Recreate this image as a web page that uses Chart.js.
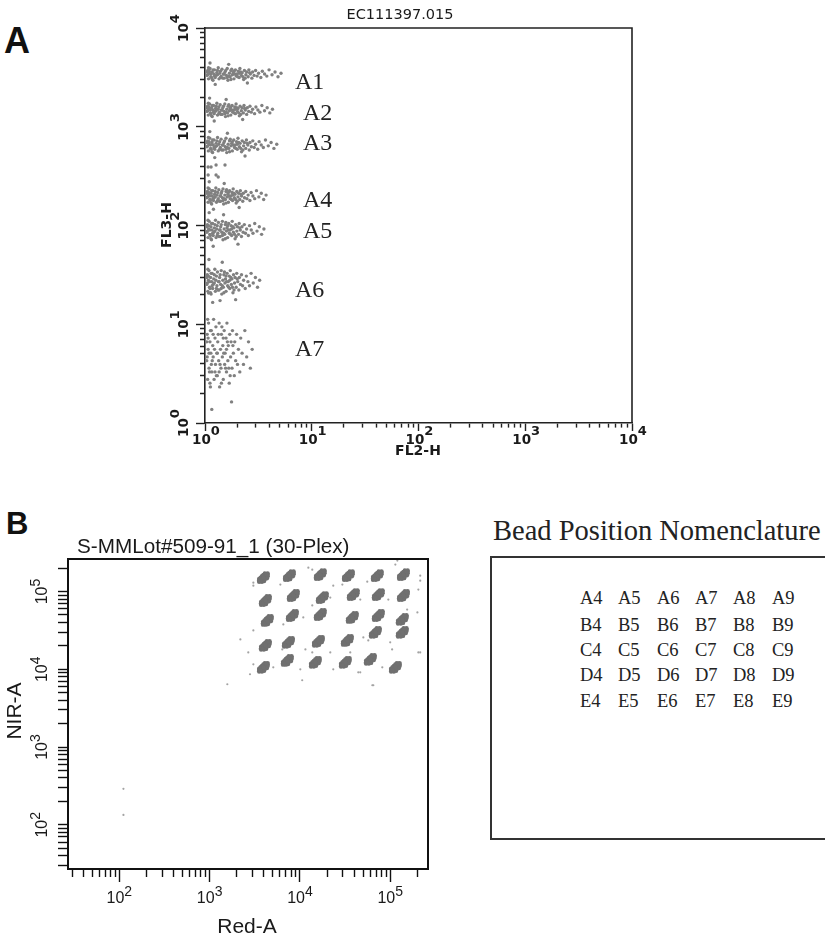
<!DOCTYPE html>
<html>
<head>
<meta charset="utf-8">
<title>Bead populations</title>
<script src="https://cdn.jsdelivr.net/npm/chart.js@4.4.1/dist/chart.umd.min.js"></script>
<style>
  body { margin: 0; background: #fff; }
  #page { position: relative; width: 825px; height: 939px; overflow: hidden; background: #fff; }
  canvas { position: absolute; }
  #plotA { left: 0; top: 0; }
  #plotB { left: 0; top: 480px; }
  .tag { position: absolute; font-family: Arial, "Liberation Sans", sans-serif; font-weight: bold; line-height: 1; color: #111; }
  #beadTitle { position: absolute; left: 493px; top: 517px; font: 28.5px "Liberation Serif", "Times New Roman", serif; line-height: 1; white-space: nowrap; color: #222; }
  #beadBox { position: absolute; left: 490px; top: 556px; width: 360px; height: 284px; border: 2px solid #333; box-sizing: border-box; }
  .bead { position: absolute; font: 18.5px "Liberation Serif", "Times New Roman", serif; line-height: 1; color: #222; white-space: nowrap; }
</style>
</head>
<body>
<div id="page">
  <div class="tag" style="left:4px;top:23px;font-size:36px">A</div>
  <div class="tag" style="left:6px;top:508px;font-size:31px">B</div>
  <canvas id="plotA" width="660" height="470"></canvas>
  <canvas id="plotB" width="470" height="459"></canvas>
  <div id="beadTitle">Bead Position Nomenclature</div>
  <div id="beadBox"></div>
</div>
<script>
// ---- Panel A: seven bead bands, FL2-H vs FL3-H ----
const bandNames = ['A1', 'A2', 'A3', 'A4', 'A5', 'A6', 'A7'];
const bandCenterY = [3420, 1480, 653, 199, 90, 27, 5.1];        // FL3-H centre of each band
const bandHalfHeight = [0.07, 0.075, 0.085, 0.09, 0.11, 0.14, 0.38]; // decades
const bandReach = [0.70, 0.62, 0.66, 0.56, 0.54, 0.50, 0.43];    // FL2-H spread, decades above 10^0
const bandLabelX = [6.97, 8.28, 8.28, 8.28, 8.28, 6.97, 6.97];
const bandLabelY = [2773, 1346, 669, 177, 86, 21.7, 5.5];
// loose events sitting between A3 and A4
const looseFL2 = [1.07, 1.14, 1.27, 1.54, 1.07, 1.27, 1.33];
const looseFL3 = [391, 391, 410, 410, 325, 325, 310];

// shape of one band: [fraction of reach, fraction of half height]
const bandShape = [
  [0.01, -0.2], [0.02, 0.5], [0.03, -0.7], [0.04, 0.1], [0.05, 0.8], [0.06, -0.4], [0.08, 0.3], [0.09, -0.9],
  [0.10, 0.0], [0.11, 0.6], [0.12, -0.5], [0.14, 0.2], [0.15, -0.1], [0.16, 0.9], [0.17, -0.7], [0.19, 0.4],
  [0.20, -0.3], [0.21, 0.7], [0.23, 0.0], [0.24, -0.6], [0.25, 0.3], [0.27, -0.2], [0.28, 0.8], [0.29, -0.9],
  [0.31, 0.1], [0.32, -0.4], [0.33, 0.5], [0.35, -0.1], [0.36, 0.2], [0.37, -0.7], [0.39, 0.6], [0.40, -0.3],
  [0.41, 0.0], [0.43, 0.4], [0.44, -0.5], [0.45, 0.8], [0.47, -0.2], [0.48, 0.2], [0.50, -0.8], [0.51, 0.5],
  [0.53, -0.1], [0.54, 0.3], [0.56, -0.4], [0.57, 0.6], [0.59, 0.0], [0.61, -0.6], [0.62, 0.3], [0.64, -0.2],
  [0.66, 0.5], [0.68, -0.3], [0.70, 0.1], [0.73, -0.5], [0.75, 0.4], [0.78, 0.0], [0.81, -0.3], [0.84, 0.6],
  [0.88, -0.1], [0.92, 0.3], [0.96, -0.4], [1.00, 0.1],
  [0.02, -0.1], [0.04, 0.4], [0.07, -0.5], [0.09, 0.6], [0.13, -0.2], [0.18, 0.1], [0.22, -0.6], [0.26, 0.5],
  [0.30, -0.3], [0.34, 0.7], [0.38, 0.0], [0.42, -0.4], [0.46, 0.3], [0.52, -0.6], [0.58, 0.2],
  [0.01, 0.3], [0.03, 0.9], [0.06, 0.0], [0.08, -0.8], [0.11, -0.3], [0.15, 0.5], [0.19, -0.5], [0.24, 0.0],
  [0.28, -0.5], [0.33, -0.8], [0.37, 0.4], [0.44, 0.1], [0.49, -0.4],
  [0.05, 1.6], [0.12, -1.5], [0.30, 1.4], [0.55, -1.3]
];

// ---- Panel B: 30-plex, Red-A vs NIR-A ----
const beadRows = ['A', 'B', 'C', 'D', 'E'];
const beadCols = [4, 5, 6, 7, 8, 9];
const beadRedA = [
  3940, 7640, 16800, 34400, 71900, 140000,
  4140, 8450, 17700, 39000, 73800, 140000,
  4350, 8240, 16800, 38000, 73800, 136000,
  4140, 7450, 16000, 33500, 68400, 136000,
  3940, 7250, 14800, 31800, 60200, 114000
];
const beadNirA = [
  151000, 160000, 165000, 160000, 160000, 165000,
  76700, 88900, 83700, 91500, 91500, 88900,
  42500, 49200, 50700, 46400, 49200, 43800,
  20300, 22200, 22900, 23500, 29800, 29800,
  10600, 13000, 12300, 12300, 13400, 10600
];
// one bead cluster, offsets in decades [Red-A, NIR-A]
const beadShape = [
  [-0.047, -0.054], [-0.016, -0.054], [-0.047, -0.018], [-0.023, -0.027], [0.008, -0.045],
  [-0.031, 0.000], [-0.008, -0.009], [0.016, -0.018], [-0.016, 0.018], [0.008, 0.009],
  [0.039, -0.009], [0.000, 0.036], [0.023, 0.027], [0.047, 0.018], [0.016, 0.054],
  [0.047, 0.054], [0.000, 0.000], [-0.047, -0.036], [0.047, 0.036], [-0.031, -0.045],
  [0.031, 0.045]
];
const strayRedA = [3050, 6070, 12400, 23400, 29500, 55700, 120000, 215000, 205000, 13700, 21700, 46600,
  95300, 154000, 200000, 6550, 10900, 3050, 50400, 57200, 100000, 215000, 6380, 11500, 13700, 21700,
  36100, 105000, 2800, 5070, 10100, 23400, 46600, 81700, 63400, 3050, 1570, 2190, 2680, 3050, 13700,
  114000, 215000, 205000, 65000, 10600, 44300, 111, 111];
const strayNirA = [119000, 123000, 203000, 119000, 123000, 134000, 250000, 160000, 106000, 66200, 83700, 78900,
  78900, 58700, 53800, 37800, 46400, 31600, 25700, 23500, 22200, 16500, 18000, 18000, 16500, 16500,
  16500, 18000, 8630, 10600, 10000, 10000, 9150, 10600, 6230, 11600, 6420, 24200, 16500, 130000, 191000,
  222000, 138000, 16500, 6230, 7230, 9150, 290, 134];

const decadesA = [1, 10, 100, 1000, 10000];
const decadesB = [100, 1000, 10000, 100000];

Chart.defaults.animation = false;
Chart.defaults.events = [];

// every 1..9 x 10^n between the axis limits, decades flagged major
function logTicks(min, max) {
  const out = [];
  for (let e = -1; e <= 6; e++) {
    for (let m = 1; m <= 9; m++) {
      const v = m * Math.pow(10, e);
      if (v >= min * 0.999 && v <= max * 1.001) out.push({ value: v, major: m === 1 });
    }
  }
  return out;
}

// "10" with a raised exponent, centred on (x, y); rotated to read upwards on the y axis
function powLabel(ctx, x, y, exp, vertical, f) {
  ctx.save();
  ctx.translate(x, y);
  if (vertical) ctx.rotate(-Math.PI / 2);
  ctx.textBaseline = 'middle';
  ctx.textAlign = 'left';
  ctx.font = f.base;
  const wBase = ctx.measureText('10').width;
  ctx.font = f.sup;
  const wSup = ctx.measureText(String(exp)).width;
  const x0 = -(wBase + wSup) / 2;
  ctx.font = f.base;
  ctx.fillText('10', x0, 0);
  ctx.font = f.sup;
  ctx.fillText(String(exp), x0 + wBase, -f.raise);
  ctx.restore();
}

// closes the plot box and writes tick labels, titles and extras
function decor(o) {
  return {
    id: 'decor',
    afterDraw(chart) {
      const { ctx, chartArea: a, scales: { x, y } } = chart;
      ctx.save();
      ctx.strokeStyle = o.frameColor;
      ctx.lineWidth = o.frameWidth;
      ctx.beginPath();
      ctx.moveTo(a.left, a.top);
      ctx.lineTo(a.right, a.top);
      ctx.lineTo(a.right, a.bottom);
      ctx.stroke();
      ctx.fillStyle = o.textColor;
      o.xDecades.forEach(v => powLabel(ctx, x.getPixelForValue(v) + o.xLabelShift, o.xLabelY,
        Math.round(Math.log10(v)), false, o.tickFont));
      o.yDecades.forEach(v => powLabel(ctx, o.yLabelX, y.getPixelForValue(v),
        Math.round(Math.log10(v)), true, o.tickFont));
      o.texts.forEach(t => {
        ctx.save();
        ctx.font = t.font;
        ctx.textAlign = t.align || 'center';
        ctx.textBaseline = 'middle';
        ctx.translate(t.x, t.y);
        if (t.rotate) ctx.rotate(-Math.PI / 2);
        ctx.fillText(t.text, 0, 0);
        ctx.restore();
      });
      if (o.extra) o.extra(ctx, x, y);
      ctx.restore();
    }
  };
}

function logAxis(min, max, tickLen, minorDash, axisColor, axisWidth, fit) {
  return {
    type: 'logarithmic',
    min: min,
    max: max,
    afterBuildTicks: s => { s.ticks = logTicks(min, max); },
    afterFit: fit,
    ticks: { display: false },
    grid: {
      drawOnChartArea: false,
      tickLength: tickLen,
      tickColor: axisColor,
      tickWidth: 1.4,
      tickBorderDash: c => (c.tick && c.tick.major) ? [] : minorDash
    },
    border: { color: axisColor, width: axisWidth }
  };
}

// ---- build panel A ----
const bandPoints = [];
bandCenterY.forEach((yc, i) => {
  bandShape.forEach(([u, v]) => {
    bandPoints.push({
      x: Math.pow(10, 0.012 + u * bandReach[i]),
      y: yc * Math.pow(10, v * bandHalfHeight[i])
    });
  });
});
const loosePoints = looseFL2.map((v, i) => ({ x: v, y: looseFL3[i] }));

new Chart(document.getElementById('plotA'), {
  type: 'scatter',
  data: {
    datasets: [{
      data: bandPoints.concat(loosePoints),
      backgroundColor: '#808080',
      borderWidth: 0,
      pointRadius: 1.7
    }]
  },
  options: {
    responsive: false,
    layout: { padding: { top: 28, right: 28, bottom: 0, left: 0 } },
    plugins: { legend: { display: false }, tooltip: { enabled: false } },
    scales: {
      x: logAxis(1, 10000, 8, [4, 20], '#222', 1.6, s => { s.height = 47; }),
      y: logAxis(1, 10000, 9, [0, 4, 5, 0], '#222', 1.6, s => { s.width = 205; })
    }
  },
  plugins: [decor({
    frameColor: '#222', frameWidth: 1.6, textColor: '#1a1a1a',
    xDecades: decadesA, yDecades: decadesA,
    xLabelShift: 1, xLabelY: 440, yLabelX: 184,
    tickFont: { base: 'bold 13.5px "DejaVu Sans"', sup: 'bold 13px "DejaVu Sans"', raise: 8 },
    texts: [
      { text: 'EC111397.015', x: 400, y: 15, font: '14.5px "DejaVu Sans"' },
      { text: 'FL2-H', x: 418, y: 451, font: 'bold 14px "DejaVu Sans"' },
      { text: 'FL3-H', x: 167, y: 225, font: 'bold 14px "DejaVu Sans"', rotate: true }
    ],
    extra(ctx, x, y) {
      ctx.font = '24px "Liberation Serif"';
      ctx.textAlign = 'left';
      ctx.textBaseline = 'middle';
      ctx.fillStyle = '#222';
      bandNames.forEach((n, i) => ctx.fillText(n, x.getPixelForValue(bandLabelX[i]), y.getPixelForValue(bandLabelY[i])));
    }
  })]
});

// ---- build panel B ----
const beadPoints = [];
beadRedA.forEach((rx, i) => {
  beadShape.forEach(([dx, dy]) => {
    beadPoints.push({ x: rx * Math.pow(10, dx), y: beadNirA[i] * Math.pow(10, dy) });
  });
});
const strayPoints = strayRedA.map((v, i) => ({ x: v, y: strayNirA[i] }));

new Chart(document.getElementById('plotB'), {
  type: 'scatter',
  data: {
    datasets: [
      { data: strayPoints, backgroundColor: '#a3a3a3', borderWidth: 0, pointRadius: 1.1 },
      { data: beadPoints, backgroundColor: '#707070', borderWidth: 0, pointRadius: 2.2 }
    ]
  },
  options: {
    responsive: false,
    layout: { padding: { top: 79, right: 42, bottom: 0, left: 0 } },
    plugins: { legend: { display: false }, tooltip: { enabled: false } },
    scales: {
      x: logAxis(27, 262144, 13, [7, 20], '#111', 2, s => { s.height = 70; }),
      y: logAxis(27, 262144, 10, [], '#111', 2, s => { s.width = 68; })
    }
  },
  plugins: [decor({
    frameColor: '#111', frameWidth: 2, textColor: '#1a1a1a',
    xDecades: decadesB, yDecades: decadesB,
    xLabelShift: 0, xLabelY: 419, yLabelX: 43,
    tickFont: { base: '16px "Liberation Sans"', sup: '14px "Liberation Sans"', raise: 7 },
    texts: [
      { text: 'S-MMLot#509-91_1 (30-Plex)', x: 77, y: 67, font: '20.7px "Liberation Sans"', align: 'left' },
      { text: 'Red-A', x: 247, y: 447, font: '21px "Liberation Sans"' },
      { text: 'NIR-A', x: 15, y: 231, font: '21px "Liberation Sans"', rotate: true }
    ]
  })]
});

// ---- bead position key ----
const colLeft = [580, 618, 657, 695, 733, 772];
const rowMid = [598, 625, 650, 675, 701];
const page = document.getElementById('page');
beadRows.forEach((r, ri) => {
  beadCols.forEach((c, ci) => {
    const s = document.createElement('div');
    s.className = 'bead';
    s.textContent = r + c;
    s.style.left = colLeft[ci] + 'px';
    s.style.top = (rowMid[ri] - 9) + 'px';
    page.appendChild(s);
  });
});
</script>
</body>
</html>
